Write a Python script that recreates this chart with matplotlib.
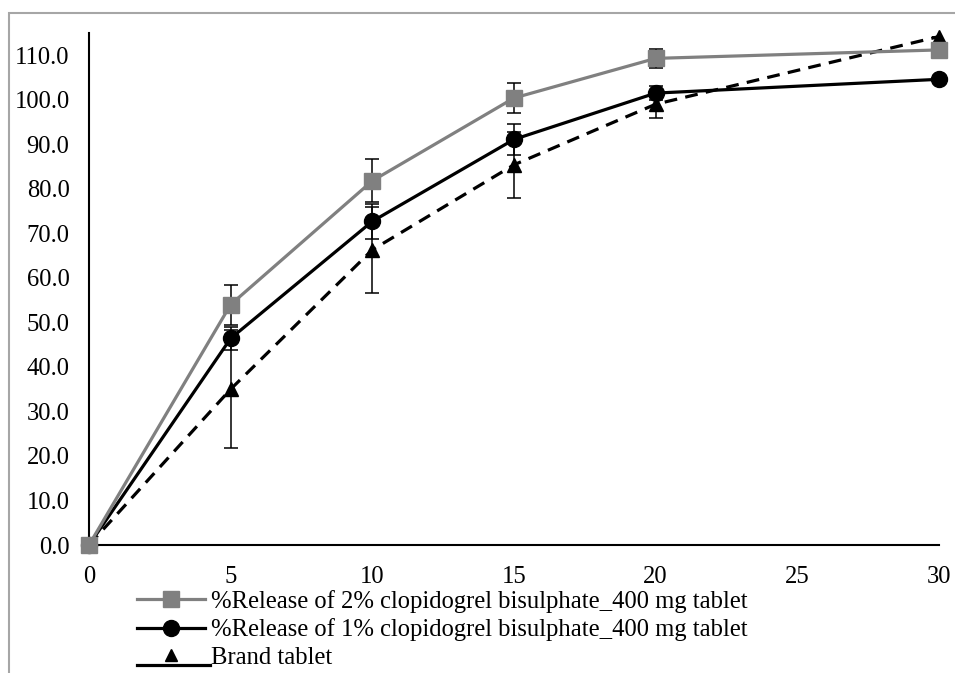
import numpy as np
import matplotlib
matplotlib.use("Agg")
import matplotlib.pyplot as plt
from matplotlib.lines import Line2D
from matplotlib.patches import Rectangle
from matplotlib.legend_handler import HandlerLine2D, HandlerTuple
from matplotlib.ticker import FormatStrFormatter

plt.rcParams['font.family'] = ['Liberation Serif', 'DejaVu Serif']

time_min = [0, 5, 10, 15, 20, 30]
rel_2pct = [0.0, 54.0, 81.8, 100.4, 109.3, 111.2]
err_2pct = [0.0, 4.5, 4.8, 3.4, 2.1, 0.0]
rel_1pct = [0.0, 46.4, 72.7, 91.1, 101.5, 104.6]
err_1pct = [0.0, 2.6, 4.0, 3.4, 1.5, 0.0]
rel_brand = [0.0, 35.0, 66.3, 85.4, 99.0, 114.2]
err_brand = [0.0, 13.3, 9.6, 7.4, 3.2, 0.0]

labels = ["%Release of 2% clopidogrel bisulphate_400 mg tablet",
          "%Release of 1% clopidogrel bisulphate_400 mg tablet",
          "Brand tablet"]
x_ticks = [0, 5, 10, 15, 20, 25, 30]
y_ticks = [0, 10, 20, 30, 40, 50, 60, 70, 80, 90, 100, 110]

FS = 17.7

fig = plt.figure(figsize=(9.55, 6.73), dpi=100)
ax = fig.add_axes([89/955, 1-545/673, (939-89)/955, (545-33)/673])

gray = '#808080'
lw = 2.3

# error bars
for y, e in [(rel_brand, err_brand), (rel_1pct, err_1pct), (rel_2pct, err_2pct)]:
    ax.errorbar(time_min, y, yerr=e, fmt='none', ecolor='black',
                elinewidth=1.1, capsize=5, capthick=1.1, zorder=2)

l_brand, = ax.plot(time_min, rel_brand, color='black', lw=lw, ls=(0, (4, 2.6)),
                   marker='^', ms=9.5, mec='black', mfc='black', zorder=3,
                   clip_on=False)
l_1, = ax.plot(time_min, rel_1pct, color='black', lw=lw, marker='o', ms=11.5,
               mec='black', mfc='black', zorder=4, clip_on=False)
l_2, = ax.plot(time_min, rel_2pct, color=gray, lw=lw, marker='s', ms=11.5,
               mec=gray, mfc=gray, zorder=4, clip_on=False)

ax.set_xlim(0, 30)
ax.set_ylim(0, 115)
ax.set_xticks(x_ticks)
ax.set_yticks(y_ticks)
ax.yaxis.set_major_formatter(FormatStrFormatter('%.1f'))
ax.tick_params(axis='both', length=0, labelsize=FS)
ax.tick_params(axis='y', pad=14)
ax.tick_params(axis='x', pad=15)
for s in ['top', 'right']:
    ax.spines[s].set_visible(False)
for s in ['left', 'bottom']:
    ax.spines[s].set_linewidth(1.5)
    ax.spines[s].set_color('black')
    ax.spines[s].set_zorder(1)


class HandlerOffsetLine(HandlerLine2D):
    def __init__(self, dy=0.0, dx_right=0.0, **kw):
        super().__init__(**kw)
        self.dy = dy
        self.dx_right = dx_right

    def create_artists(self, legend, orig_handle, xdescent, ydescent, width,
                       height, fontsize, trans):
        arts = super().create_artists(legend, orig_handle, xdescent, ydescent,
                                      width, height, fontsize, trans)
        for a in arts:
            a.set_ydata(np.asarray(a.get_ydata()) + self.dy)
            xd = np.asarray(a.get_xdata(), dtype=float)
            xd[-1] = xd[-1] + self.dx_right
            a.set_xdata(xd)
        return arts


h_tri = Line2D([], [], ls='none', marker='^', ms=9, color='black')
h_under = Line2D([], [], color='black', lw=lw)
leg = fig.legend([l_2, l_1, (h_tri, h_under)], labels,
                 loc='upper left', bbox_to_anchor=(137/955, 1-590/673),
                 frameon=False, fontsize=FS, handlelength=2.75,
                 handletextpad=0.28, labelspacing=0.22, borderaxespad=0,
                 borderpad=0,
                 handler_map={h_under: HandlerOffsetLine(dy=-7, dx_right=4),
                              tuple: HandlerTuple(ndivide=1)})

fig.patches.append(Rectangle((9/955, -0.05), 1.2, 1-13/673+0.05,
                             transform=fig.transFigure, fill=False,
                             edgecolor='#a6a6a6', lw=1.5))

fig.savefig('out.png', dpi=100)
